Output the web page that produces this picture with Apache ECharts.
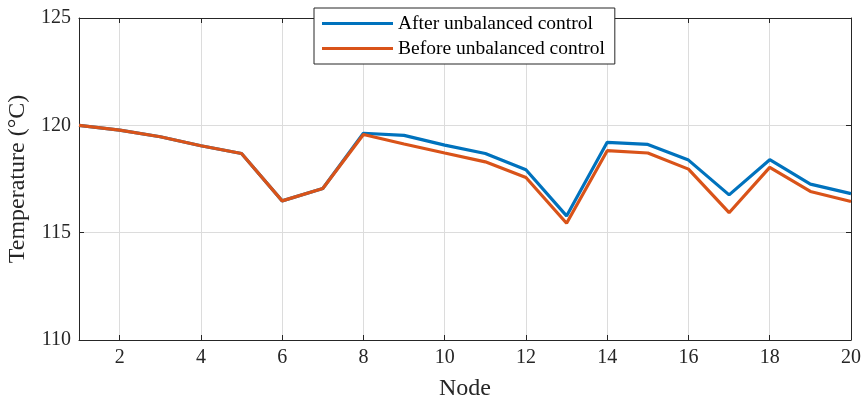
<!DOCTYPE html>
<html><head><meta charset="utf-8">
<script src="https://cdn.jsdelivr.net/npm/echarts@6/dist/echarts.min.js"></script>
<style>html,body{margin:0;padding:0;background:#fff}#c{width:863px;height:400px}</style>
</head><body><div id="c"></div>
<script>
var nodes = [1,2,3,4,5,6,7,8,9,10,11,12,13,14,15,16,17,18,19,20];
var afterControl = [120.0,119.78,119.47,119.05,118.69,116.48,117.06,119.63,119.53,119.08,118.69,117.93,115.78,119.21,119.11,118.38,116.76,118.40,117.26,116.82];
var beforeControl = [120.0,119.78,119.47,119.05,118.69,116.48,117.06,119.57,119.13,118.71,118.30,117.57,115.44,118.82,118.71,117.96,115.93,118.04,116.92,116.45];
var seriesNames = ['After unbalanced control','Before unbalanced control'];
var xTitle = 'Node';
var yTitle = 'Temperature (\u00B0C)';

var font = 'Liberation Serif';
var axisCol = '#262626';
function pairs(v){ return nodes.map(function(n,i){ return [n, v[i]]; }); }
var chart = echarts.init(document.getElementById('c'), null, {renderer:'canvas'});
chart.setOption({
  animation:false,
  backgroundColor:'#fff',
  grid:{left:79,right:12,top:18,bottom:60,containLabel:false,outerBoundsMode:'none'},
  legend:{
    orient:'vertical', left:314, top:8,
    padding:[5,10,5,8], itemGap:4,
    itemWidth:71, itemHeight:3, icon:'rect',
    backgroundColor:'#fff', borderColor:'#262626', borderWidth:1,
    textStyle:{fontFamily:font, fontSize:19.5, color:'#000', lineHeight:21},
    data:seriesNames
  },
  xAxis:[{
    type:'value', min:1, max:20, splitNumber:10, minInterval:2, maxInterval:2,
    name:xTitle, nameLocation:'middle', nameGap:37,
    nameTextStyle:{fontFamily:font, fontSize:24, color:'#262626'},
    axisLine:{show:true, onZero:false, lineStyle:{color:axisCol, width:1}},
    axisTick:{show:true, inside:true, length:5, lineStyle:{color:axisCol}},
    axisLabel:{fontFamily:font, fontSize:20, color:'#262626', margin:8,
      formatter:function(v){ return v===1 ? '' : String(v); }},
    splitLine:{show:true, lineStyle:{color:'#dcdcdc', width:1}}
  },{
    type:'value', min:1, max:20, splitNumber:10, minInterval:2, maxInterval:2, position:'top',
    axisLine:{show:true, onZero:false, lineStyle:{color:axisCol, width:1}},
    axisTick:{show:true, inside:true, length:5, lineStyle:{color:axisCol}},
    axisLabel:{show:false}, splitLine:{show:false}
  }],
  yAxis:[{
    type:'value', min:110, max:125, interval:5,
    name:yTitle, nameLocation:'middle', nameGap:41, nameRotate:90,
    nameTextStyle:{fontFamily:font, fontSize:24, color:'#262626'},
    axisLine:{show:true, onZero:false, lineStyle:{color:axisCol, width:1}},
    axisTick:{show:true, inside:true, length:5, lineStyle:{color:axisCol}},
    axisLabel:{fontFamily:font, fontSize:20, color:'#262626', margin:8},
    splitLine:{show:true, lineStyle:{color:'#dcdcdc', width:1}}
  },{
    type:'value', min:110, max:125, interval:5, position:'right',
    axisLine:{show:true, onZero:false, lineStyle:{color:axisCol, width:1}},
    axisTick:{show:true, inside:true, length:5, lineStyle:{color:axisCol}},
    axisLabel:{show:false}, splitLine:{show:false}
  }],
  series:[
    {name:seriesNames[0], type:'line', data:pairs(afterControl), showSymbol:false, symbol:'none',
     color:'#0072BD', lineStyle:{width:3.2, color:'#0072BD'}, z:2},
    {name:seriesNames[1], type:'line', data:pairs(beforeControl), showSymbol:false, symbol:'none',
     color:'#D95319', lineStyle:{width:3.2, color:'#D95319'}, z:3}
  ]
});
</script></body></html>
